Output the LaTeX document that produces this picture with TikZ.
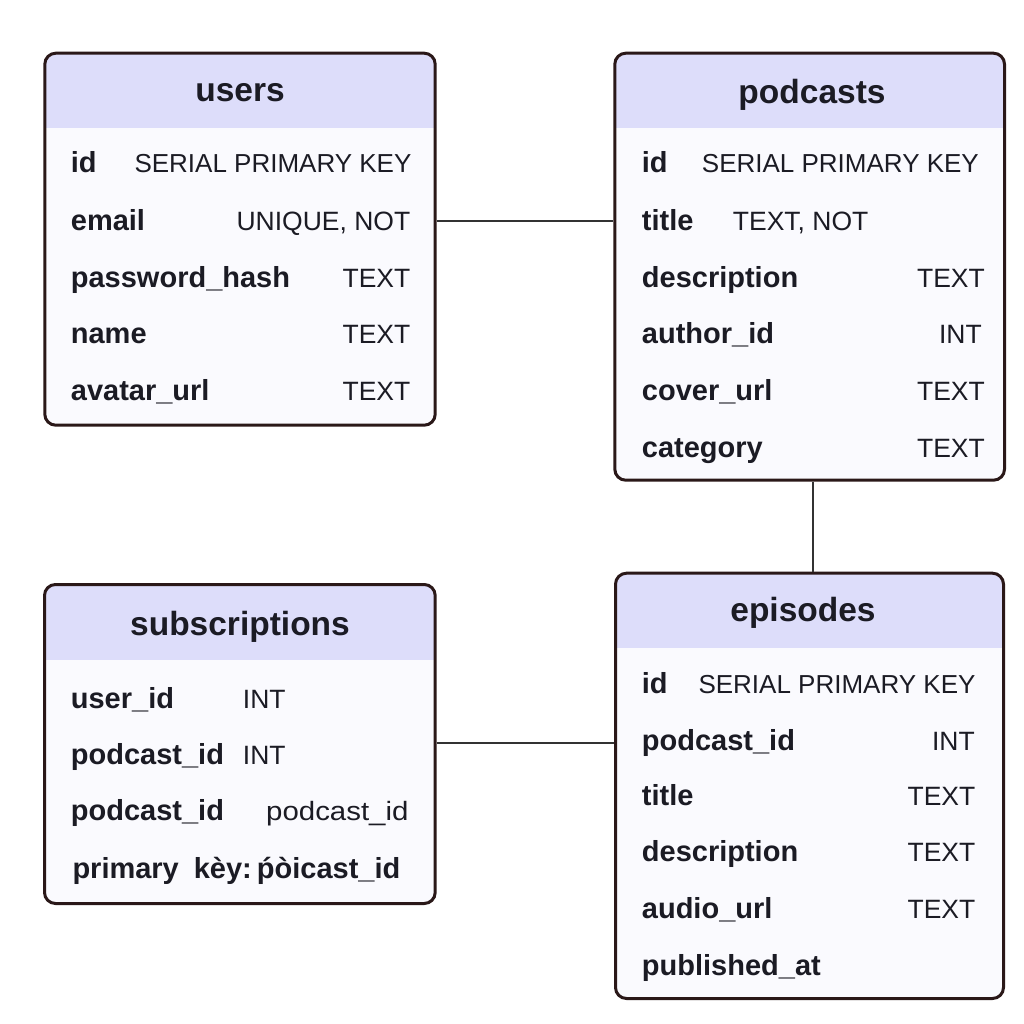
\documentclass[tikz,border=0pt]{standalone}
\usepackage{fontspec}
\setmainfont{Liberation Sans}
\usetikzlibrary{fit}
\definecolor{ink}{HTML}{1B1B24}
\definecolor{headfill}{HTML}{DDDDFA}
\definecolor{bodyfill}{HTML}{FAFAFE}
\definecolor{edge}{HTML}{2A1818}
\definecolor{linec}{HTML}{333333}
\tikzset{
  tbl/.style={draw=edge, line width=3pt, rounded corners=11pt, inner sep=0pt},
  ttl/.style={font=\bfseries\fontsize{33.5}{38}\selectfont, text=ink, inner sep=0pt, anchor=base},
  key/.style={font=\bfseries\fontsize{29}{32}\selectfont, text=ink, inner sep=0pt, anchor=base west},
  val/.style={font=\fontsize{26.5}{30}\selectfont, text=ink, inner sep=0pt},
  serial/.style={font=\fontsize{26}{30}\selectfont, text=ink, inner sep=0pt, anchor=base west},
  conn/.style={draw=linec, line width=2.8pt},
}
\newcommand\erbox[6]{%
  \begin{scope}
    \clip[rounded corners=11pt] (#2,#3) rectangle (#4,#5);
    \fill[bodyfill] (#2,#3) rectangle (#4,#5);
    \fill[headfill] (#2,#3) rectangle (#4,#6);
  \end{scope}
  \node[tbl, fit={(#2,#3) (#4,#5)}] (#1) {};
}
\begin{document}
\begin{tikzpicture}[x=1pt,y=-1pt]
\useasboundingbox[fill=white] (0,0) rectangle (1024,1024);

% users
\erbox{users}{44.8}{53.2}{435.2}{425.2}{128.3}
\node[ttl] (users-t) at (240,101.7) {users};
\node[key] (u-k1) at (70.7,173) {id};
\node[serial] (u-v1) at (134.3,173) {SERIAL PRIMARY KEY};
\node[key] (u-k2) at (70.7,230) {email};
\node[val, anchor=base east] (u-v2) at (410.5,230) {UNIQUE, NOT};
\node[key] (u-k3) at (70.7,287) {password\_hash};
\node[val, anchor=base east] (u-v3) at (410.5,287) {TEXT};
\node[key] (u-k4) at (70.7,343) {name};
\node[val, anchor=base east] (u-v4) at (410.5,343) {TEXT};
\node[key] (u-k5) at (70.7,400) {avatar\_url};
\node[val, anchor=base east] (u-v5) at (410.5,400) {TEXT};

% podcasts
\erbox{podcasts}{614.8}{53.2}{1004.5}{480.2}{128.3}
\node[ttl] (podcasts-t) at (812,103.3) {podcasts};
\node[key] (p-k1) at (641.7,173) {id};
\node[serial] (p-v1) at (701.7,173) {SERIAL PRIMARY KEY};
\node[key] (p-k2) at (641.7,230) {title};
\node[val, anchor=base west] (p-v2) at (732.7,230) {TEXT, NOT};
\node[key] (p-k3) at (641.7,287) {description};
\node[val, anchor=base east] (p-v3) at (985,287) {TEXT};
\node[key] (p-k4) at (641.7,343) {author\_id};
\node[val, anchor=base east] (p-v4) at (982,343) {INT};
\node[key] (p-k5) at (641.7,400) {cover\_url};
\node[val, anchor=base east] (p-v5) at (985,400) {TEXT};
\node[key] (p-k6) at (641.7,457) {category};
\node[val, anchor=base east] (p-v6) at (985,457) {TEXT};

% subscriptions
\erbox{subscriptions}{44.5}{584.5}{435.2}{903.5}{660}
\node[ttl] (subscriptions-t) at (240,635) {subscriptions};
\node[key] (s-k1) at (70.7,708.3) {user\_id};
\node[val, anchor=base west] (s-v1) at (242.7,708.3) {INT};
\node[key] (s-k2) at (70.7,764) {podcast\_id};
\node[val, anchor=base west] (s-v2) at (242.7,764) {INT};
\node[key] (s-k3) at (70.7,820.7) {podcast\_id};
\node[val, anchor=base west] (s-v3) at (266,820.7) {\scalebox{1.11}[1]{podcast\_id}};
\node[key] (s-k4) at (72.3,878) {primary\hspace{15pt}k\`ey:\hspace{5pt}\'p\`oicast\_id};

% episodes
\erbox{episodes}{615.5}{573.2}{1003.5}{998.5}{647.7}
\node[ttl] (episodes-t) at (803,621.7) {episodes};
\node[key] (e-k1) at (641.7,693.3) {id};
\node[serial] (e-v1) at (698.3,693.3) {SERIAL PRIMARY KEY};
\node[key] (e-k2) at (641.7,750) {podcast\_id};
\node[val, anchor=base east] (e-v2) at (975,750) {INT};
\node[key] (e-k3) at (641.7,805.7) {title};
\node[val, anchor=base east] (e-v3) at (975.5,805.7) {TEXT};
\node[key] (e-k4) at (641.7,861.7) {description};
\node[val, anchor=base east] (e-v4) at (975.5,861.7) {TEXT};
\node[key] (e-k5) at (641.7,918.3) {audio\_url};
\node[val, anchor=base east] (e-v5) at (975.5,918.3) {TEXT};
\node[key] (e-k6) at (641.7,975) {published\_at};

% connectors
\coordinate (c1) at (0,221);
\coordinate (c2) at (813,0);
\coordinate (c3) at (0,743);
\draw[conn] (users.east |- c1) -- (podcasts.west |- c1);
\draw[conn] (podcasts.south -| c2) -- (episodes.north -| c2);
\draw[conn] (subscriptions.east |- c3) -- (episodes.west |- c3);
\end{tikzpicture}
\end{document}
